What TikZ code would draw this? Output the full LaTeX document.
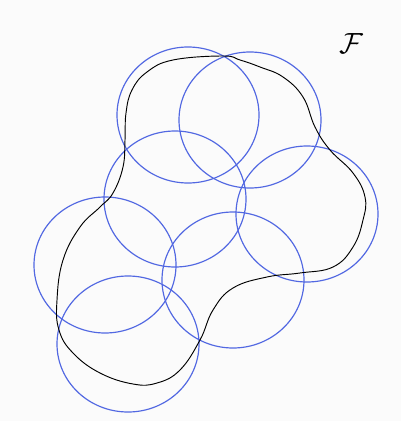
\documentclass[tikz,border=0pt]{standalone}
\usepackage{amsmath}
\usepackage{xcolor}
\usepackage{tikz}
\usetikzlibrary{positioning}
\definecolor{cBlue}{RGB}{82,104,226}
\definecolor{cBack}{RGB}{251,251,251}
\tikzset{
  cover/.style={draw=cBlue, line width=1pt},
  bound/.style={draw=black, line width=0.8pt},
  lbl/.style={font=\fontsize{38}{38}\selectfont, inner sep=0pt},
}
\newcommand{\Cover}[2]{% {x}{y}
  \draw[cover] (#1,#2) ellipse [x radius=71, y radius=68];}

\begin{document}
\begin{tikzpicture}[x=0.03cm, y=-0.03cm]
  \fill[cBack] (0,0) rectangle (401,421);
  \useasboundingbox (0,0) rectangle (401,421);
  % open cover of the set
  \Cover{188}{115}
  \Cover{250}{120}
  \Cover{175}{199}
  \Cover{307}{214}
  \Cover{105}{265}
  \Cover{233}{280}
  \Cover{128}{344}
  % the set itself
  \draw[bound] plot[smooth cycle, tension=0.7] coordinates {
    (223,56) (173,60) (147,72) (132,90) (126,113) (125,140) (123,167)
    (113,193) (100,207) (80,227) (63,260) (57,300) (59,330) (73,353)
    (100,373) (133,384) (157,383) (180,370) (200,340) (213,310)
    (233,288) (267,277) (300,273) (333,267) (353,247) (363,220)
    (365,197) (353,173) (330,150) (315,127) (303,97) (283,77)
    (260,67) (240,60)};
  \node[lbl] (fam) at (351,44) {$\mathcal{F}$};
\end{tikzpicture}
\end{document}
